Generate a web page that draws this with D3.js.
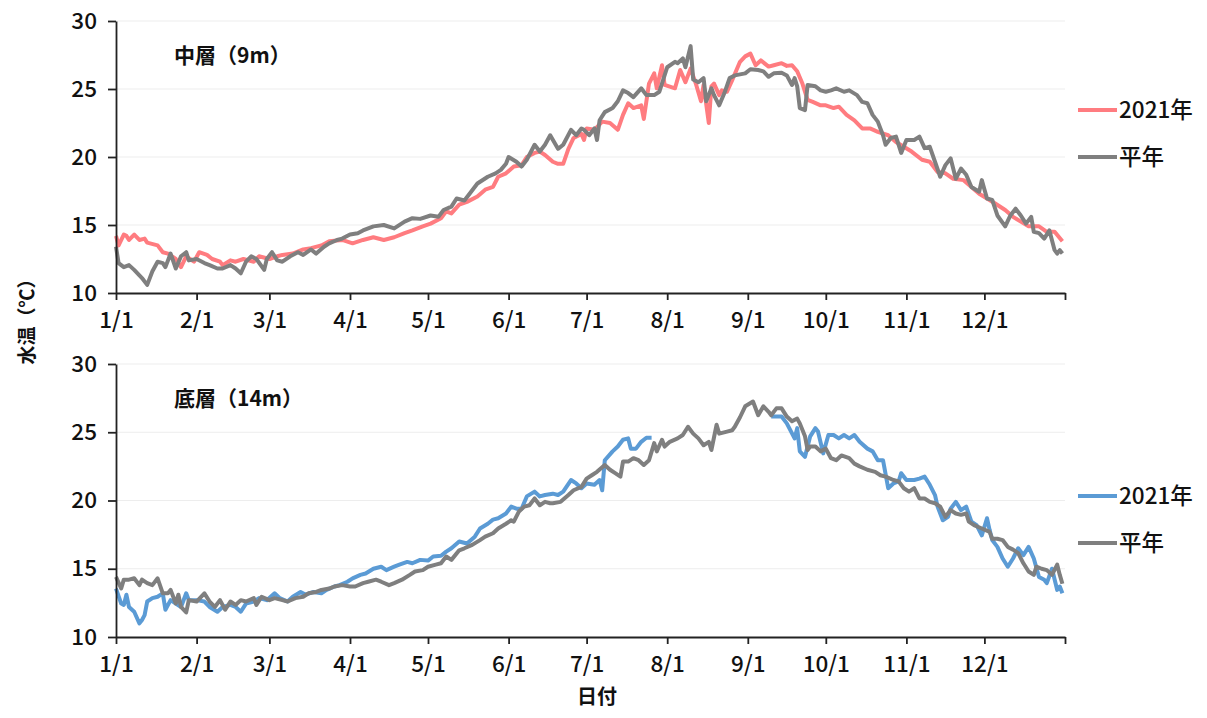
<!DOCTYPE html>
<html><head><meta charset="utf-8">
<script src="https://cdn.jsdelivr.net/npm/d3@7"></script>
<style>
body{margin:0;background:#fff}
svg{display:block}
text{font-family:"Noto Sans CJK JP","Noto Sans",sans-serif}
</style>
</head><body>
<svg id="c" width="1207" height="718"></svg>
<script>
// ---- data: [day of year (0 = 1/1), water temperature °C] ----
const monthLabels = ["1/1","2/1","3/1","4/1","5/1","6/1","7/1","8/1","9/1","10/1","11/1","12/1",""];
const yTicks = [10,15,20,25,30];
const seriesNames = ["2021年","平年"];
const panelTitles = ["中層（9m）","底層（14m）"];

const mid2021 = [[0,14.2],[1,13.5],[3,14.3],[4,14.2],[5,13.9],[7,14.3],[9,13.9],[11,14.0],[12,13.7],[16,13.5],[18,13.0],[20,12.9],[23,12.5],[25,11.9],[27,12.7],[30,12.3],[32,13.0],[35,12.8],[37,12.5],[40,12.3],[41,12.05],[44,12.4],[46,12.3],[49,12.5],[53,12.3],[55,12.7],[59,12.5],[62,12.7],[64,12.8],[68,12.9],[72,13.2],[75,13.3],[79,13.5],[82,13.8],[87,13.9],[91,13.65],[95,13.9],[99,14.1],[103,13.9],[107,14.1],[111,14.4],[114,14.6],[118,14.9],[121,15.1],[125,15.5],[127,16.0],[129,15.85],[132,16.5],[135,16.7],[139,17.1],[142,17.6],[145,17.8],[147,18.55],[150,18.8],[153,19.3],[156,19.4],[158,20.0],[161,20.3],[163,20.4],[165,20.15],[168,19.65],[170,19.5],[172,19.5],[174,20.6],[176,21.4],[179,21.7],[180,21.25],[181,22.1],[184,22.0],[187,22.6],[190,22.5],[193,22.0],[195,23.1],[197,23.95],[199,23.6],[202,23.8],[203,22.8],[205,25.4],[207,26.15],[208,25.05],[210,26.75],[211,25.3],[215,25.05],[217,26.4],[219,25.5],[221,26.5],[223,25.4],[225,24.1],[226,25.3],[228,22.5],[229,25.2],[230,25.4],[232,24.55],[233,24.9],[235,24.8],[237,25.65],[240,27.0],[242,27.4],[244,27.6],[246,26.75],[248,27.1],[251,26.65],[253,26.75],[256,26.9],[258,26.7],[260,26.75],[262,26.3],[264,25.4],[266,24.2],[268,24.05],[271,23.8],[273,23.8],[276,23.6],[278,23.7],[281,23.1],[284,22.7],[287,22.1],[290,22.1],[293,21.85],[297,21.6],[300,21.1],[303,20.75],[306,20.4],[310,19.8],[313,19.65],[316,18.9],[319,18.8],[322,18.4],[326,18.3],[329,17.8],[332,17.3],[335,16.95],[338,16.6],[342,16.1],[345,15.6],[348,15.25],[351,14.9],[355,14.9],[358,14.5],[361,14.5],[364,13.8]];

const midNormal = [[0,13.4],[1,12.2],[3,11.9],[5,12.05],[7,11.7],[9,11.3],[10,11.1],[12,10.6],[14,11.6],[16,12.3],[18,12.2],[19,11.9],[21,12.9],[23,11.8],[25,12.7],[27,13.0],[28,12.4],[31,12.5],[34,12.2],[36,12.05],[39,11.8],[41,11.8],[44,12.05],[46,11.8],[48,11.45],[50,12.3],[52,12.7],[54,12.5],[57,11.7],[58,12.5],[60,13.0],[62,12.4],[64,12.3],[67,12.7],[70,13.0],[72,12.8],[75,13.2],[77,12.9],[80,13.4],[82,13.65],[85,13.9],[87,14.0],[90,14.3],[93,14.4],[95,14.6],[99,14.9],[103,15.0],[107,14.75],[111,15.25],[114,15.5],[117,15.45],[121,15.7],[124,15.6],[126,16.1],[129,16.35],[131,16.95],[134,16.8],[136,17.3],[139,18.05],[143,18.55],[146,18.8],[148,19.05],[150,19.5],[151,20.0],[154,19.65],[156,19.3],[158,19.8],[161,20.9],[163,20.4],[165,20.9],[167,21.6],[170,20.6],[172,20.9],[175,22.0],[177,21.6],[179,22.1],[180,22.0],[182,21.6],[184,22.1],[185,21.25],[186,22.7],[188,23.3],[191,23.6],[193,24.1],[195,24.9],[197,24.7],[199,24.4],[202,25.05],[204,24.55],[207,24.55],[209,24.8],[212,26.6],[215,27.0],[216,26.9],[218,27.25],[219,26.6],[221,28.15],[222,25.7],[224,25.5],[226,25.8],[227,24.1],[229,25.05],[230,24.55],[232,23.8],[234,24.7],[236,25.8],[238,26.0],[242,26.15],[244,26.45],[247,26.4],[249,26.3],[251,25.9],[253,26.15],[256,26.2],[258,26.0],[260,25.3],[261,25.8],[262,25.2],[263,23.6],[265,23.45],[266,25.3],[269,25.2],[271,24.9],[273,24.8],[275,24.9],[277,25.05],[280,24.8],[282,24.9],[285,24.55],[287,24.05],[289,23.95],[291,23.1],[293,22.6],[295,21.6],[296,20.9],[298,21.4],[300,21.5],[302,20.3],[304,21.25],[307,21.25],[309,21.5],[311,20.65],[313,20.75],[315,19.65],[317,18.55],[319,19.4],[321,19.9],[323,18.4],[325,19.15],[327,18.7],[329,17.8],[332,17.45],[333,18.3],[335,16.95],[337,16.85],[339,15.7],[342,14.9],[344,15.7],[346,16.2],[348,15.7],[350,15.1],[352,15.6],[353,14.5],[355,14.4],[357,14.0],[359,14.6],[361,13.15],[362,12.9],[363,13.15],[364,12.9]];

const bottom2021 = [[0,13.55],[2,12.45],[3,12.35],[4,13.1],[5,12.2],[7,11.85],[9,11.0],[10,11.25],[11,11.6],[12,12.6],[14,12.85],[16,12.95],[18,13.2],[19,12.0],[21,12.7],[23,12.45],[25,12.2],[27,13.2],[28,12.7],[31,12.7],[34,12.6],[36,12.2],[39,11.85],[41,12.2],[44,12.35],[46,12.2],[48,11.85],[50,12.45],[53,12.6],[55,12.85],[58,12.7],[61,13.2],[63,12.85],[66,12.6],[68,12.95],[71,13.3],[73,13.1],[76,13.3],[79,13.2],[81,13.45],[84,13.7],[86,13.8],[89,14.05],[91,14.3],[94,14.55],[96,14.65],[99,15.0],[102,15.15],[104,14.9],[107,15.15],[109,15.3],[112,15.5],[114,15.4],[117,15.65],[120,15.6],[122,15.9],[125,15.95],[127,16.25],[129,16.5],[132,17.0],[135,16.85],[138,17.35],[140,17.95],[143,18.3],[145,18.6],[147,18.7],[150,19.05],[152,19.55],[154,19.4],[156,19.4],[158,20.3],[161,20.65],[163,20.3],[165,20.4],[168,20.5],[170,20.4],[172,20.65],[175,21.5],[177,21.25],[179,20.9],[181,21.25],[184,21.15],[186,21.5],[187,20.75],[188,22.95],[191,23.6],[193,23.95],[195,24.45],[197,24.55],[198,23.8],[200,23.8],[202,24.3],[204,24.6],[206,24.6],[230,null],[252,26.15],[254,26.15],[256,26.15],[258,25.65],[261,24.55],[262,25.3],[263,23.6],[265,23.2],[267,24.7],[269,25.3],[270,25.05],[272,23.45],[274,24.8],[276,24.8],[278,24.55],[280,24.8],[282,24.55],[284,24.8],[286,24.3],[289,23.8],[291,23.6],[293,22.95],[295,22.95],[297,20.9],[299,21.25],[301,21.4],[302,22.0],[304,21.5],[307,21.5],[309,21.6],[311,21.75],[313,21.15],[315,20.4],[316,19.55],[318,18.55],[320,18.8],[321,19.4],[323,19.9],[325,19.3],[327,19.55],[329,18.45],[331,18.2],[333,17.45],[335,18.7],[336,17.85],[337,17.1],[339,16.6],[341,15.75],[343,15.15],[345,15.75],[347,16.5],[349,16.0],[351,16.6],[353,15.75],[355,14.4],[357,14.2],[358,13.95],[360,15.0],[362,13.45],[363,13.7],[364,13.2]];

const bottomNormal = [[0,14.4],[2,13.55],[3,14.2],[5,14.2],[7,14.3],[9,13.8],[10,14.2],[12,13.95],[14,13.8],[16,14.3],[18,13.2],[20,13.2],[21,13.45],[23,12.45],[24,13.1],[25,12.2],[27,11.8],[28,12.7],[31,12.6],[34,13.2],[36,12.6],[38,12.2],[40,12.7],[42,12.0],[44,12.6],[46,12.35],[48,12.7],[50,12.6],[53,12.85],[54,12.35],[56,12.95],[59,12.7],[61,12.85],[64,12.7],[66,12.6],[69,12.85],[72,12.95],[74,13.2],[77,13.3],[79,13.45],[82,13.55],[84,13.7],[87,13.8],[90,13.7],[92,13.7],[95,13.95],[97,14.05],[100,14.2],[102,14.05],[105,13.8],[107,13.95],[110,14.2],[113,14.55],[115,14.8],[118,14.9],[120,15.15],[123,15.3],[125,15.4],[127,15.9],[129,15.65],[132,16.35],[134,16.5],[137,16.75],[140,17.1],[142,17.35],[145,17.6],[147,17.95],[150,18.3],[152,18.55],[153,18.45],[155,19.2],[157,19.55],[159,19.65],[161,20.15],[163,19.65],[165,19.9],[167,19.8],[168,19.8],[171,19.9],[174,20.4],[176,20.75],[179,21.0],[181,21.6],[183,21.85],[185,22.1],[188,22.6],[190,22.25],[192,22.0],[194,21.75],[195,22.85],[197,22.85],[199,23.1],[201,22.95],[203,22.6],[205,22.95],[207,24.2],[208,23.6],[210,24.45],[211,23.95],[213,24.3],[216,24.55],[218,24.8],[220,25.4],[222,24.9],[224,24.55],[226,24.05],[228,24.3],[229,23.7],[231,25.55],[232,24.9],[235,25.05],[237,25.15],[238,25.4],[240,26.1],[242,26.9],[245,27.25],[247,26.25],[249,26.9],[251,26.5],[252,26.25],[254,26.75],[256,26.75],[258,26.15],[260,25.8],[262,26.0],[263,25.65],[265,24.7],[266,23.7],[267,23.95],[269,23.95],[271,23.6],[273,23.8],[275,23.1],[277,22.95],[279,23.3],[282,23.1],[284,22.7],[286,22.5],[289,22.25],[292,22.1],[294,21.85],[296,21.75],[299,21.5],[301,21.4],[303,20.9],[305,20.65],[307,20.9],[309,20.15],[311,20.15],[313,19.9],[315,19.8],[317,19.55],[319,18.8],[321,19.3],[323,19.05],[325,18.95],[327,19.05],[328,18.45],[330,18.2],[333,17.95],[336,17.7],[337,17.2],[339,17.2],[341,17.1],[343,16.6],[345,16.4],[347,16.15],[349,15.4],[351,14.8],[353,14.55],[354,15.15],[356,15.0],[358,14.9],[360,14.55],[362,15.3],[363,14.55],[364,13.9]];

// ---- drawing ----
const svg = d3.select("#c");
const start = new Date(2021,0,1), end = new Date(2022,0,1);
const x = d3.scaleTime().domain([start,end]).range([116,1065]);
const monthTickDates = d3.timeMonth.range(start, d3.timeDay.offset(end,1));
const toDate = d => d3.timeDay.offset(start, d);
const tickFont = 22.5;

const panels = [
  {top:21, bottom:293, title:panelTitles[0], series:[{data:mid2021,color:"#FF7C80"},{data:midNormal,color:"#7F7F7F"}], legendY:[110,157]},
  {top:364, bottom:637, title:panelTitles[1], series:[{data:bottom2021,color:"#5B9BD5"},{data:bottomNormal,color:"#7F7F7F"}], legendY:[496,543]}
];

panels.forEach(p => {
  const y = d3.scaleLinear().domain([10,30]).range([p.bottom,p.top]);
  const g = svg.append("g");
  g.append("g").selectAll("line").data(yTicks.slice(1)).join("line")
    .attr("x1",x.range()[0]).attr("x2",x.range()[1])
    .attr("y1",d=>y(d)).attr("y2",d=>y(d))
    .attr("stroke","#EDEDED").attr("stroke-width",1);
  const line = d3.line().defined(d=>d[1]!=null).x(d=>x(toDate(d[0]))).y(d=>y(d[1]));
  p.series.forEach(s => {
    g.append("path").datum(s.data).attr("d",line)
      .attr("fill","none").attr("stroke",s.color).attr("stroke-width",4)
      .attr("stroke-linejoin","round").attr("stroke-linecap","butt");
  });
  const ya = g.append("g").attr("transform",`translate(${x.range()[0]},0)`)
    .call(d3.axisLeft(y).tickValues(yTicks).tickSize(8).tickPadding(11).tickSizeOuter(0));
  ya.select(".domain").attr("stroke","#222").attr("stroke-width",1.8);
  ya.selectAll(".tick line").attr("stroke","#222").attr("stroke-width",1.8);
  ya.selectAll(".tick text").attr("font-size",tickFont).attr("font-weight",500).attr("fill","#111")
    .attr("font-family",'"Noto Sans CJK JP",sans-serif');
  const xa = g.append("g").attr("transform",`translate(0,${p.bottom})`)
    .call(d3.axisBottom(x).tickValues(monthTickDates).tickSize(7).tickPadding(12).tickSizeOuter(0)
      .tickFormat((d,i)=>monthLabels[i]));
  xa.select(".domain").attr("stroke","#222").attr("stroke-width",1.8);
  xa.selectAll(".tick line").attr("stroke","#222").attr("stroke-width",1.8);
  xa.selectAll(".tick text").attr("font-size",tickFont).attr("font-weight",500).attr("fill","#111")
    .attr("font-family",'"Noto Sans CJK JP",sans-serif');
  g.append("text").attr("x",174).attr("y",p.top+35).attr("dy","0.35em")
    .attr("font-size",21).attr("font-weight",700).attr("fill","#111").text(p.title);
  p.series.forEach((s,i) => {
    const ly = p.legendY[i];
    g.append("line").attr("x1",1078).attr("x2",1117).attr("y1",ly).attr("y2",ly)
      .attr("stroke",s.color).attr("stroke-width",4);
    g.append("text").attr("x",1119).attr("y",ly).attr("dy","0.36em")
      .attr("font-size",22.5).attr("font-weight",500).attr("fill","#111").text(seriesNames[i]);
  });
});

svg.append("text").attr("transform","translate(27,317) rotate(-90)")
  .attr("text-anchor","middle").attr("dy","0.35em")
  .attr("font-size",19).attr("font-weight",700).attr("fill","#111").text("水温（℃）");
svg.append("text").attr("x",597).attr("y",697).attr("text-anchor","middle").attr("dy","0.35em")
  .attr("font-size",20).attr("font-weight",700).attr("fill","#111").text("日付");
</script>
</body></html>
